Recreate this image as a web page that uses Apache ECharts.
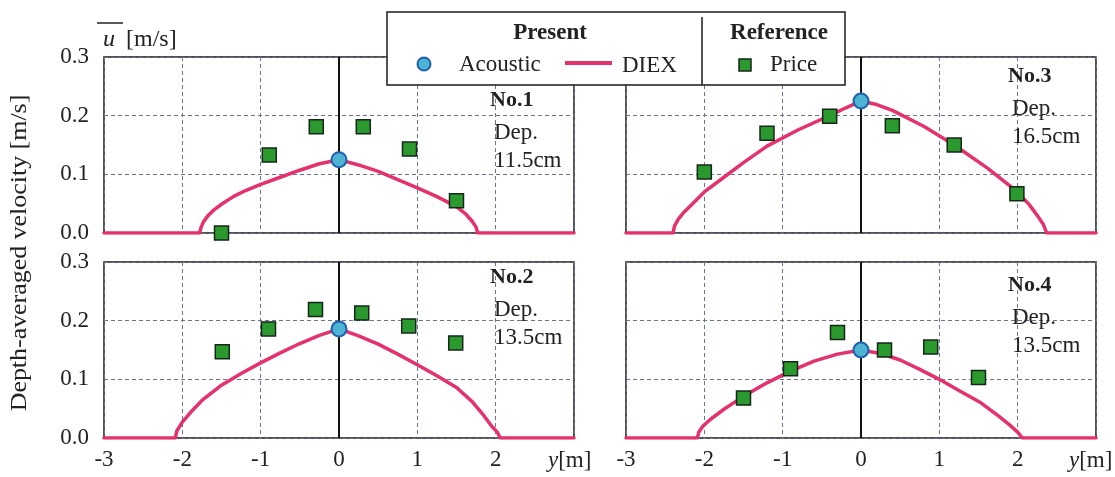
<!DOCTYPE html>
<html>
<head>
<meta charset="utf-8">
<script src="https://cdn.jsdelivr.net/npm/echarts@6/dist/echarts.min.js"></script>
<style>
html,body{margin:0;padding:0;background:#fff;}
#chart{width:1115px;height:477px;}
</style>
</head>
<body>
<div id="chart"></div>
<script>
// ---- data ----
const xTicks = [-3, -2, -1, 0, 1, 2, 3];
const yTicks = [0.0, 0.1, 0.2, 0.3];
const panelNames = ['No.1', 'No.2', 'No.3', 'No.4'];
const panelDepths = ['11.5cm', '13.5cm', '16.5cm', '13.5cm'];

const priceX1 = [-1.5, -0.89, -0.29, 0.31, 0.90, 1.50];
const priceY1 = [0.0, 0.133, 0.181, 0.181, 0.143, 0.055];
const priceX2 = [-1.49, -0.90, -0.30, 0.29, 0.89, 1.49];
const priceY2 = [0.147, 0.186, 0.219, 0.213, 0.191, 0.162];
const priceX3 = [-2.0, -1.2, -0.40, 0.40, 1.19, 1.99];
const priceY3 = [0.104, 0.170, 0.199, 0.183, 0.150, 0.067];
const priceX4 = [-1.5, -0.90, -0.30, 0.30, 0.89, 1.50];
const priceY4 = [0.068, 0.118, 0.180, 0.150, 0.155, 0.103];

const acousticY = [0.125, 0.186, 0.225, 0.150];

const diexX1 = [-3, -1.78, -1.76, -1.73, -1.67, -1.6, -1.5, -1.35, -1.2, -1.0, -0.75, -0.5, -0.25, 0, 0.25, 0.5, 0.75, 1.0, 1.25, 1.5, 1.62, 1.7, 1.75, 1.77, 3];
const diexY1 = [0, 0, 0.010, 0.019, 0.030, 0.039, 0.049, 0.062, 0.072, 0.083, 0.095, 0.107, 0.118, 0.125, 0.116, 0.105, 0.091, 0.077, 0.062, 0.045, 0.032, 0.020, 0.010, 0, 0];
const diexX2 = [-3, -2.09, -2.07, -2.0, -1.9, -1.75, -1.5, -1.25, -1.0, -0.75, -0.5, -0.25, 0, 0.25, 0.5, 0.75, 1.0, 1.25, 1.5, 1.7, 1.85, 1.95, 2.02, 2.06, 3];
const diexY2 = [0, 0, 0.012, 0.027, 0.043, 0.064, 0.090, 0.110, 0.128, 0.145, 0.161, 0.175, 0.186, 0.174, 0.160, 0.143, 0.125, 0.106, 0.086, 0.062, 0.038, 0.020, 0.010, 0, 0];
const diexX3 = [-3, -2.40, -2.38, -2.33, -2.27, -2.15, -2.0, -1.75, -1.5, -1.2, -0.8, -0.4, -0.2, 0, 0.2, 0.4, 0.8, 1.19, 1.61, 1.99, 2.15, 2.25, 2.33, 2.37, 3];
const diexY3 = [0, 0, 0.012, 0.024, 0.034, 0.050, 0.070, 0.095, 0.120, 0.148, 0.176, 0.200, 0.213, 0.225, 0.219, 0.209, 0.182, 0.150, 0.111, 0.071, 0.048, 0.030, 0.014, 0, 0];
const diexX4 = [-3, -2.09, -2.07, -2.02, -1.92, -1.75, -1.5, -1.2, -0.9, -0.6, -0.3, 0, 0.25, 0.5, 0.75, 1.0, 1.25, 1.53, 1.75, 1.9, 2.0, 2.06, 3];
const diexY4 = [0, 0, 0.010, 0.020, 0.032, 0.049, 0.071, 0.094, 0.114, 0.131, 0.143, 0.150, 0.144, 0.133, 0.117, 0.100, 0.081, 0.060, 0.038, 0.022, 0.010, 0, 0];

// ---- build ----
const FONT = 'Liberation Serif';
const priceX = [priceX1, priceX2, priceX3, priceX4];
const priceY = [priceY1, priceY2, priceY3, priceY4];
const diexX = [diexX1, diexX2, diexX3, diexX4];
const diexY = [diexY1, diexY2, diexY3, diexY4];
const zip = (a, b) => a.map((v, i) => [v, b[i]]);

const grids = [
  {left: 104, top: 57, width: 470, height: 176},
  {left: 104, top: 262, width: 470, height: 176},
  {left: 626, top: 57, width: 470, height: 176},
  {left: 626, top: 262, width: 470, height: 176}
].map(g => Object.assign(g, {show: true, borderColor: '#1a1a1a', borderWidth: 1.5, backgroundColor: 'transparent'}));

const gridLine = {show: true, lineStyle: {color: '#6b7393', type: [4, 3], width: 1}};

const xAxes = grids.map((g, i) => ({
  type: 'value', gridIndex: i, min: xTicks[0], max: xTicks[xTicks.length - 1], interval: 1,
  axisLine: {show: false}, axisTick: {show: false}, splitLine: gridLine,
  axisLabel: {show: i === 1 || i === 3, margin: 10, color: '#222', fontFamily: FONT, fontSize: 23,
    formatter: v => (v === 3 ? '' : String(v))}
}));
const yAxes = grids.map((g, i) => ({
  type: 'value', gridIndex: i, min: yTicks[0], max: yTicks[yTicks.length - 1], interval: 0.1,
  axisLine: {show: false}, axisTick: {show: false}, splitLine: gridLine,
  axisLabel: {show: i < 2, margin: 15, color: '#222', fontFamily: FONT, fontSize: 23,
    formatter: v => v.toFixed(1)}
}));

const series = [];
for (let i = 0; i < 4; i++) {
  series.push({
    name: 'DIEX', type: 'line', xAxisIndex: i, yAxisIndex: i,
    data: zip(diexX[i], diexY[i]), showSymbol: false, smooth: false,
    lineStyle: {color: '#e4326c', width: 3.5, join: 'round', cap: 'round'}, z: 3,
    markLine: {silent: true, symbol: 'none', label: {show: false},
      lineStyle: {color: '#111', width: 2, type: 'solid'}, data: [{xAxis: 0}], z: 2}
  });
  series.push({
    name: 'Price', type: 'scatter', xAxisIndex: i, yAxisIndex: i,
    data: zip(priceX[i], priceY[i]), symbol: 'rect', symbolSize: 14, clip: false,
    itemStyle: {color: '#2a9a2e', borderColor: '#16261a', borderWidth: 1.5, opacity: 1}, z: 4
  });
  series.push({
    name: 'Acoustic', type: 'scatter', xAxisIndex: i, yAxisIndex: i,
    data: [[0, acousticY[i]]], symbol: 'circle', symbolSize: 15,
    itemStyle: {color: '#4db5d3', borderColor: '#1f5fae', borderWidth: 2, opacity: 1}, z: 5
  });
}

const txt = (x, y, text, extra) => ({type: 'text', x: x, y: y, z: 50,
  style: Object.assign({text: text, font: '23px "' + FONT + '"', fill: '#222', textVerticalAlign: 'middle'}, extra || {})});

const panelText = [];
const labelPos = [[490, 100], [490, 277], [1008, 76], [1008, 285]];
for (let i = 0; i < 4; i++) {
  const [lx, ly] = labelPos[i];
  panelText.push(txt(lx, ly, panelNames[i], {font: 'bold 22px "' + FONT + '"'}));
  panelText.push(txt(lx + 4, ly + 33, 'Dep.'));
  panelText.push(txt(lx + 4, ly + 61, panelDepths[i]));
}

const axisNameRich = {i: {fontFamily: FONT, fontStyle: 'italic', fontSize: 23, fill: '#222'}, n: {fontFamily: FONT, fontSize: 23, fill: '#222'}};

const graphic = [
  // y-axis title
  {type: 'text', x: 20, y: 253, rotation: Math.PI / 2, scaleX: 1.08, z: 50,
   style: {text: 'Depth-averaged velocity [m/s]', font: '24px "' + FONT + '"', fill: '#222',
           textAlign: 'center', textVerticalAlign: 'middle'}},
  // u-bar [m/s]
  txt(103, 40, 'u', {font: 'italic 24px "' + FONT + '"'}),
  {type: 'line', z: 50, shape: {x1: 97, y1: 23, x2: 123, y2: 23}, style: {stroke: '#222', lineWidth: 1.5}},
  txt(126, 40, '[m/s]', {font: '24px "' + FONT + '"'}),
  // x-axis names
  {type: 'text', x: 548, y: 461, z: 50, style: {rich: axisNameRich, text: '{i|y}{n|[m]}', textVerticalAlign: 'middle'}},
  {type: 'text', x: 1069, y: 461, z: 50, style: {rich: axisNameRich, text: '{i|y}{n|[m]}', textVerticalAlign: 'middle'}},
  // legend box
  {type: 'rect', z: 40, shape: {x: 387, y: 12, width: 458, height: 73}, style: {fill: '#fff', stroke: '#1a1a1a', lineWidth: 1.5}},
  {type: 'line', z: 41, shape: {x1: 702, y1: 17, x2: 702, y2: 85}, style: {stroke: '#1a1a1a', lineWidth: 1.5}},
  txt(550, 33, 'Present', {font: 'bold 23px "' + FONT + '"', textAlign: 'center'}),
  txt(779, 33, 'Reference', {font: 'bold 23px "' + FONT + '"', textAlign: 'center'}),
  {type: 'circle', z: 50, shape: {cx: 424, cy: 64, r: 6.5}, style: {fill: '#4db5d3', stroke: '#1f5fae', lineWidth: 2}},
  txt(459, 65, 'Acoustic'),
  {type: 'line', z: 50, shape: {x1: 565, y1: 63, x2: 612, y2: 63}, style: {stroke: '#e4326c', lineWidth: 4}},
  txt(622, 66, 'DIEX'),
  {type: 'rect', z: 50, shape: {x: 739, y: 59, width: 12, height: 12}, style: {fill: '#2a9a2e', stroke: '#16261a', lineWidth: 1.5}},
  txt(770, 65, 'Price')
].concat(panelText);

const chart = echarts.init(document.getElementById('chart'), null, {renderer: 'canvas'});
chart.setOption({
  animation: false,
  backgroundColor: '#fff',
  textStyle: {fontFamily: FONT},
  grid: grids,
  xAxis: xAxes,
  yAxis: yAxes,
  series: series,
  graphic: graphic
});
</script>
</body>
</html>
